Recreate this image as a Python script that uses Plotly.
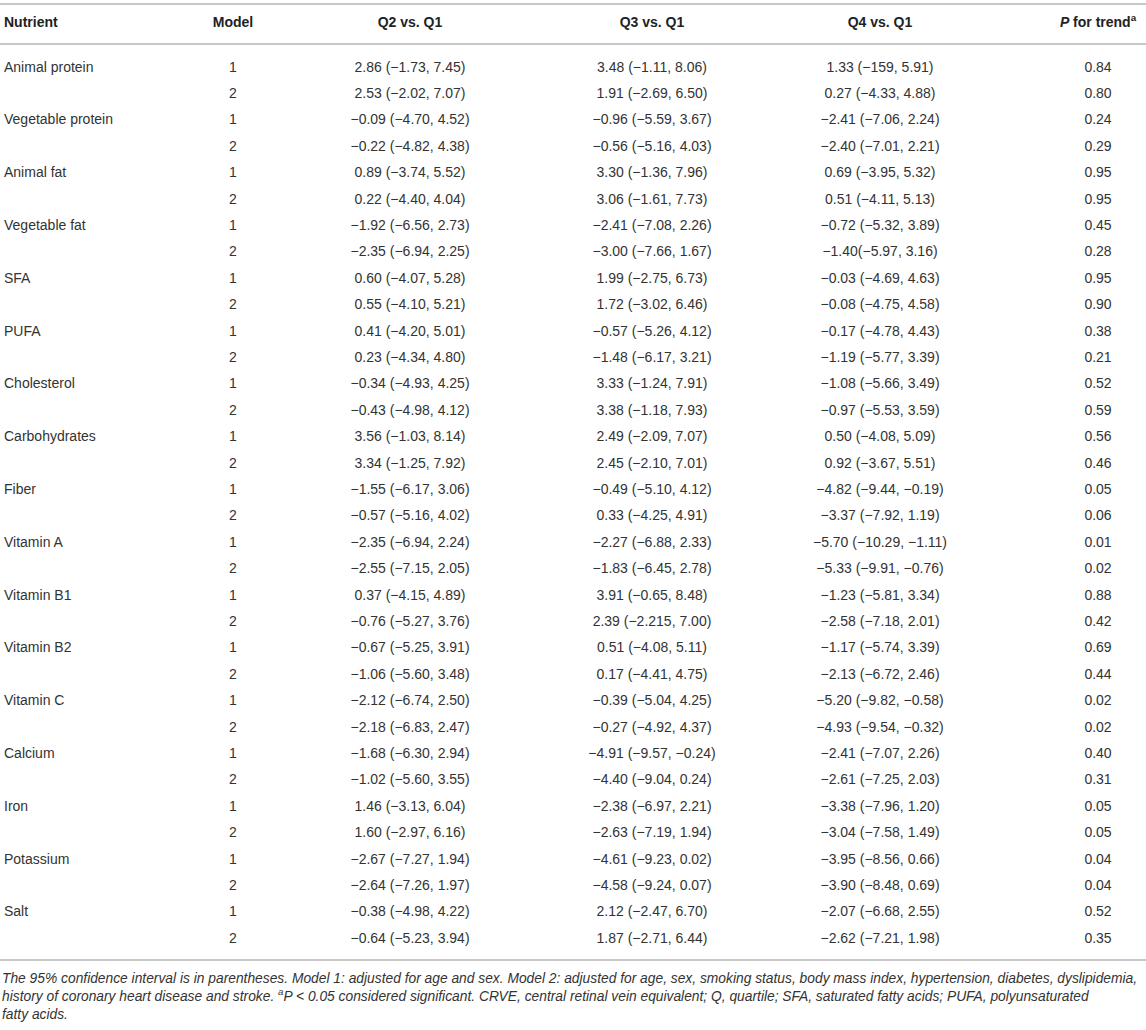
import plotly.graph_objects as go

nutrients = ["Animal protein", "Vegetable protein", "Animal fat", "Vegetable fat", "SFA", "PUFA",
             "Cholesterol", "Carbohydrates", "Fiber", "Vitamin A", "Vitamin B1", "Vitamin B2",
             "Vitamin C", "Calcium", "Iron", "Potassium", "Salt"]
models = ["1", "2"]

q2 = ["2.86 (-1.73, 7.45)", "2.53 (-2.02, 7.07)",
      "-0.09 (-4.70, 4.52)", "-0.22 (-4.82, 4.38)",
      "0.89 (-3.74, 5.52)", "0.22 (-4.40, 4.04)",
      "-1.92 (-6.56, 2.73)", "-2.35 (-6.94, 2.25)",
      "0.60 (-4.07, 5.28)", "0.55 (-4.10, 5.21)",
      "0.41 (-4.20, 5.01)", "0.23 (-4.34, 4.80)",
      "-0.34 (-4.93, 4.25)", "-0.43 (-4.98, 4.12)",
      "3.56 (-1.03, 8.14)", "3.34 (-1.25, 7.92)",
      "-1.55 (-6.17, 3.06)", "-0.57 (-5.16, 4.02)",
      "-2.35 (-6.94, 2.24)", "-2.55 (-7.15, 2.05)",
      "0.37 (-4.15, 4.89)", "-0.76 (-5.27, 3.76)",
      "-0.67 (-5.25, 3.91)", "-1.06 (-5.60, 3.48)",
      "-2.12 (-6.74, 2.50)", "-2.18 (-6.83, 2.47)",
      "-1.68 (-6.30, 2.94)", "-1.02 (-5.60, 3.55)",
      "1.46 (-3.13, 6.04)", "1.60 (-2.97, 6.16)",
      "-2.67 (-7.27, 1.94)", "-2.64 (-7.26, 1.97)",
      "-0.38 (-4.98, 4.22)", "-0.64 (-5.23, 3.94)"]

q3 = ["3.48 (-1.11, 8.06)", "1.91 (-2.69, 6.50)",
      "-0.96 (-5.59, 3.67)", "-0.56 (-5.16, 4.03)",
      "3.30 (-1.36, 7.96)", "3.06 (-1.61, 7.73)",
      "-2.41 (-7.08, 2.26)", "-3.00 (-7.66, 1.67)",
      "1.99 (-2.75, 6.73)", "1.72 (-3.02, 6.46)",
      "-0.57 (-5.26, 4.12)", "-1.48 (-6.17, 3.21)",
      "3.33 (-1.24, 7.91)", "3.38 (-1.18, 7.93)",
      "2.49 (-2.09, 7.07)", "2.45 (-2.10, 7.01)",
      "-0.49 (-5.10, 4.12)", "0.33 (-4.25, 4.91)",
      "-2.27 (-6.88, 2.33)", "-1.83 (-6.45, 2.78)",
      "3.91 (-0.65, 8.48)", "2.39 (-2.215, 7.00)",
      "0.51 (-4.08, 5.11)", "0.17 (-4.41, 4.75)",
      "-0.39 (-5.04, 4.25)", "-0.27 (-4.92, 4.37)",
      "-4.91 (-9.57, -0.24)", "-4.40 (-9.04, 0.24)",
      "-2.38 (-6.97, 2.21)", "-2.63 (-7.19, 1.94)",
      "-4.61 (-9.23, 0.02)", "-4.58 (-9.24, 0.07)",
      "2.12 (-2.47, 6.70)", "1.87 (-2.71, 6.44)"]

q4 = ["1.33 (-159, 5.91)", "0.27 (-4.33, 4.88)",
      "-2.41 (-7.06, 2.24)", "-2.40 (-7.01, 2.21)",
      "0.69 (-3.95, 5.32)", "0.51 (-4.11, 5.13)",
      "-0.72 (-5.32, 3.89)", "-1.40(-5.97, 3.16)",
      "-0.03 (-4.69, 4.63)", "-0.08 (-4.75, 4.58)",
      "-0.17 (-4.78, 4.43)", "-1.19 (-5.77, 3.39)",
      "-1.08 (-5.66, 3.49)", "-0.97 (-5.53, 3.59)",
      "0.50 (-4.08, 5.09)", "0.92 (-3.67, 5.51)",
      "-4.82 (-9.44, -0.19)", "-3.37 (-7.92, 1.19)",
      "-5.70 (-10.29, -1.11)", "-5.33 (-9.91, -0.76)",
      "-1.23 (-5.81, 3.34)", "-2.58 (-7.18, 2.01)",
      "-1.17 (-5.74, 3.39)", "-2.13 (-6.72, 2.46)",
      "-5.20 (-9.82, -0.58)", "-4.93 (-9.54, -0.32)",
      "-2.41 (-7.07, 2.26)", "-2.61 (-7.25, 2.03)",
      "-3.38 (-7.96, 1.20)", "-3.04 (-7.58, 1.49)",
      "-3.95 (-8.56, 0.66)", "-3.90 (-8.48, 0.69)",
      "-2.07 (-6.68, 2.55)", "-2.62 (-7.21, 1.98)"]

p_trend = ["0.84", "0.80", "0.24", "0.29", "0.95", "0.95", "0.45", "0.28", "0.95", "0.90",
           "0.38", "0.21", "0.52", "0.59", "0.56", "0.46", "0.05", "0.06", "0.01", "0.02",
           "0.88", "0.42", "0.69", "0.44", "0.02", "0.02", "0.40", "0.31", "0.05", "0.05",
           "0.04", "0.04", "0.52", "0.35"]

headers = ["<b>Nutrient</b>", "<b>Model</b>", "<b>Q2 vs. Q1</b>", "<b>Q3 vs. Q1</b>",
           "<b>Q4 vs. Q1</b>", "<b><i>P</i> for trend<sup>a</sup></b>"]

footnote = ("The 95% confidence interval is in parentheses. Model 1: adjusted for age and sex. "
            "Model 2: adjusted for age, sex, smoking status, body mass index, hypertension, diabetes, dyslipidemia,<br>"
            "history of coronary heart disease and stroke. <sup>a</sup>P &lt; 0.05 considered significant. "
            "CRVE, central retinal vein equivalent; Q, quartile; SFA, saturated fatty acids; PUFA, polyunsaturated<br>"
            "fatty acids.")

minus = lambda col: [s.replace("-", "\u2212") for s in col]

# one row per nutrient/model pair
model_col = models * len(nutrients)
rows = list(range(len(model_col)))
name_rows = rows[::2]

W, H = 1146, 1030
row_px = 26.4
first_px = 68
to_row = lambda px: (px - first_px) / row_px

col_x = [4, 233, 410, 652, 880, 1098]
ink = "#333333"
rule = "#b4b4b4"
font_main = "Liberation Sans, Arial, sans-serif"

fig = go.Figure()
fig.add_trace(go.Scatter(
    x=[col_x[0]] * len(nutrients), y=name_rows, text=nutrients, mode="text",
    textposition="middle right", cliponaxis=False,
    textfont=dict(family=font_main, size=14, color=ink),
    hoverinfo="skip", showlegend=False))

columns = [model_col, minus(q2), minus(q3), minus(q4), p_trend]
for i, col in enumerate(columns, start=1):
    fig.add_trace(go.Scatter(
        x=[col_x[i]] * len(col), y=rows, text=col, mode="text",
        textposition="middle center", cliponaxis=False,
        textfont=dict(family=font_main, size=14, color=ink),
        hoverinfo="skip", showlegend=False))

fig.add_trace(go.Scatter(
    x=col_x, y=[to_row(23)] * len(headers), text=headers, mode="text",
    textposition=["middle right"] + ["middle center"] * 5, cliponaxis=False,
    textfont=dict(family=font_main, size=14, color="#222222"),
    hoverinfo="skip", showlegend=False))

for px in [4, 44, 960]:
    fig.add_shape(type="line", xref="paper", x0=0, x1=1, y0=to_row(px), y1=to_row(px),
                  line=dict(color=rule, width=1.6))

fig.add_annotation(text="<i>" + footnote + "</i>", xref="paper", x=0, xanchor="left",
                   yref="y", y=to_row(969), yanchor="top", align="left", showarrow=False,
                   font=dict(family=font_main, size=13.8, color=ink))

fig.update_layout(
    width=W, height=H,
    margin=dict(l=0, r=0, t=0, b=0),
    paper_bgcolor="white", plot_bgcolor="white",
    xaxis=dict(range=[0, W], visible=False, fixedrange=True),
    yaxis=dict(range=[to_row(H), to_row(0)], visible=False, fixedrange=True),
)

# page body has a default 8px margin; drop it so the figure sits at the window corner
fig.write_html("out.html", config={"displayModeBar": False},
               post_script="document.body.style.margin = '0';")
